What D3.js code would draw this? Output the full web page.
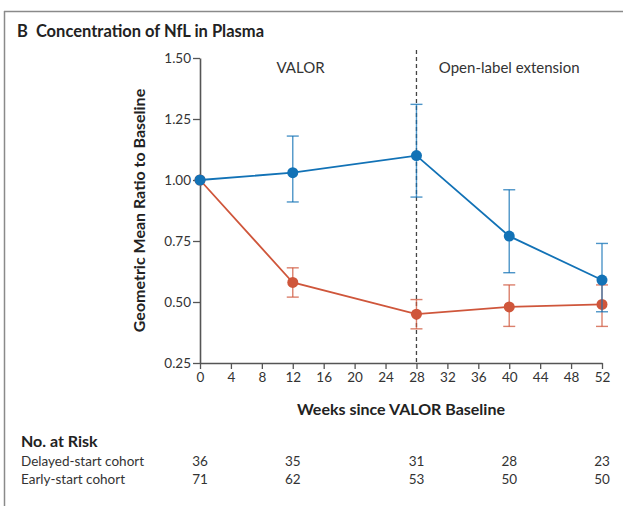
<!DOCTYPE html>
<html>
<head>
<meta charset="utf-8">
<script src="https://cdn.jsdelivr.net/npm/d3@7"></script>
<style>
  body { margin: 0; background: #fff; }
  svg { display: block; font-family: Lato, "Open Sans", sans-serif; }
</style>
</head>
<body>
<svg width="623" height="506"></svg>
<script>
// weeks at which NfL was measured
var weeks = [0, 12, 28, 40, 52];

// delayed-start cohort (blue)
var delayedMean = [1.00, 1.03, 1.10, 0.77, 0.59];
var delayedLow  = [1.00, 0.91, 0.93, 0.62, 0.46];
var delayedHigh = [1.00, 1.18, 1.31, 0.96, 0.74];

// early-start cohort (red)
var earlyMean = [1.00, 0.58, 0.45, 0.48, 0.49];
var earlyLow  = [1.00, 0.52, 0.39, 0.40, 0.40];
var earlyHigh = [1.00, 0.64, 0.51, 0.57, 0.57];

var xTicks = [0, 4, 8, 12, 16, 20, 24, 28, 32, 36, 40, 44, 48, 52];
var yTicks = [0.25, 0.50, 0.75, 1.00, 1.25, 1.50];

var riskDelayed = [36, 35, 31, 28, 23];
var riskEarly   = [71, 62, 53, 50, 50];

var blue = "#1272b6", red = "#cf563b";

var svg = d3.select("svg");

// frame lines (left and top)
svg.append("line").attr("x1", 4.5).attr("x2", 4.5).attr("y1", 11).attr("y2", 506)
    .attr("stroke", "#8a8a8a").attr("stroke-width", 1.5);
svg.append("line").attr("x1", 4).attr("x2", 623).attr("y1", 11.5).attr("y2", 11.5)
    .attr("stroke", "#8a8a8a").attr("stroke-width", 1.5);

// title
var title = svg.append("text").attr("x", 17).attr("y", 37)
    .style("font-size", "16.5px").style("font-weight", "bold").attr("fill", "#222");
title.append("tspan").text("B");
title.append("tspan").attr("dx", 8).text("Concentration of NfL in Plasma");

var x = d3.scaleLinear().domain([0, 52]).range([200, 602]);
var y = d3.scaleLinear().domain([0.25, 1.5]).range([363, 58]);

// axes
var xAxis = svg.append("g").attr("transform", "translate(0," + y(0.25) + ")")
    .call(d3.axisBottom(x).tickValues(xTicks).tickSize(6).tickPadding(3).tickSizeOuter(0));
var yAxis = svg.append("g").attr("transform", "translate(" + x(0) + ",0)")
    .call(d3.axisLeft(y).tickValues(yTicks).tickSize(7).tickPadding(2).tickSizeOuter(0)
        .tickFormat(d3.format(".2f")));

[xAxis, yAxis].forEach(function(g) {
  g.select(".domain").attr("stroke", "#555").attr("stroke-width", 1.6);
  g.selectAll(".tick line").attr("stroke", "#555").attr("stroke-width", 1.3);
  g.selectAll(".tick text").attr("fill", "#333").style("font-size", "13.5px")
      .style("font-family", "Lato, sans-serif");
});

// axis titles
svg.append("text")
    .attr("transform", "translate(145," + y(0.875) + ") rotate(-90)")
    .attr("text-anchor", "middle")
    .style("font-size", "16px").style("font-weight", "bold").attr("fill", "#222")
    .text("Geometric Mean Ratio to Baseline");

svg.append("text").attr("x", x(26)).attr("y", 415)
    .attr("text-anchor", "middle")
    .style("font-size", "16px").style("font-weight", "bold").attr("fill", "#222")
    .text("Weeks since VALOR Baseline");

// VALOR / extension divider
svg.append("line").attr("x1", x(28)).attr("x2", x(28))
    .attr("y1", 50).attr("y2", y(0.25))
    .attr("stroke", "#444").attr("stroke-width", 1.3).attr("stroke-dasharray", "4,3");

svg.append("text").attr("x", x(13)).attr("y", 73).attr("text-anchor", "middle")
    .style("font-size", "15px").attr("fill", "#333").text("VALOR");
svg.append("text").attr("x", x(40)).attr("y", 73).attr("text-anchor", "middle")
    .style("font-size", "15px").attr("fill", "#333").text("Open-label extension");

function drawSeries(mean, low, high, color) {
  var pts = weeks.map(function(w, i) {
    return { w: w, m: mean[i], lo: low[i], hi: high[i] };
  });
  var g = svg.append("g");

  // error bars
  var eb = g.selectAll(".eb").data(pts.filter(function(d) { return d.w > 0; }))
    .enter().append("g").attr("stroke", color).attr("stroke-width", 1.4)
    .attr("stroke-opacity", 0.75);
  eb.append("line")
    .attr("x1", function(d) { return x(d.w); }).attr("x2", function(d) { return x(d.w); })
    .attr("y1", function(d) { return y(d.lo); }).attr("y2", function(d) { return y(d.hi); });
  eb.append("line")
    .attr("x1", function(d) { return x(d.w) - 6; }).attr("x2", function(d) { return x(d.w) + 6; })
    .attr("y1", function(d) { return y(d.lo); }).attr("y2", function(d) { return y(d.lo); });
  eb.append("line")
    .attr("x1", function(d) { return x(d.w) - 6; }).attr("x2", function(d) { return x(d.w) + 6; })
    .attr("y1", function(d) { return y(d.hi); }).attr("y2", function(d) { return y(d.hi); });

  var line = d3.line().x(function(d) { return x(d.w); }).y(function(d) { return y(d.m); });
  g.append("path").datum(pts).attr("d", line)
    .attr("fill", "none").attr("stroke", color).attr("stroke-width", 1.8);

  g.selectAll("circle").data(pts).enter().append("circle")
    .attr("cx", function(d) { return x(d.w); })
    .attr("cy", function(d) { return y(d.m); })
    .attr("r", 5.5).attr("fill", color);
}

drawSeries(earlyMean, earlyLow, earlyHigh, red);
drawSeries(delayedMean, delayedLow, delayedHigh, blue);

// numbers at risk
svg.append("text").attr("x", 21).attr("y", 447)
    .style("font-size", "16px").style("font-weight", "bold").attr("fill", "#222")
    .text("No. at Risk");

var rows = [["Delayed-start cohort", riskDelayed, 466], ["Early-start cohort", riskEarly, 484]];
rows.forEach(function(r) {
  svg.append("text").attr("x", 21).attr("y", r[2])
    .style("font-size", "13.5px").attr("fill", "#333").text(r[0]);
  svg.selectAll(null).data(r[1]).enter().append("text")
    .attr("x", function(d, i) { return x(weeks[i]); })
    .attr("y", r[2]).attr("text-anchor", "middle")
    .style("font-size", "13.5px").attr("fill", "#333")
    .text(function(d) { return d; });
});
</script>
</body>
</html>
